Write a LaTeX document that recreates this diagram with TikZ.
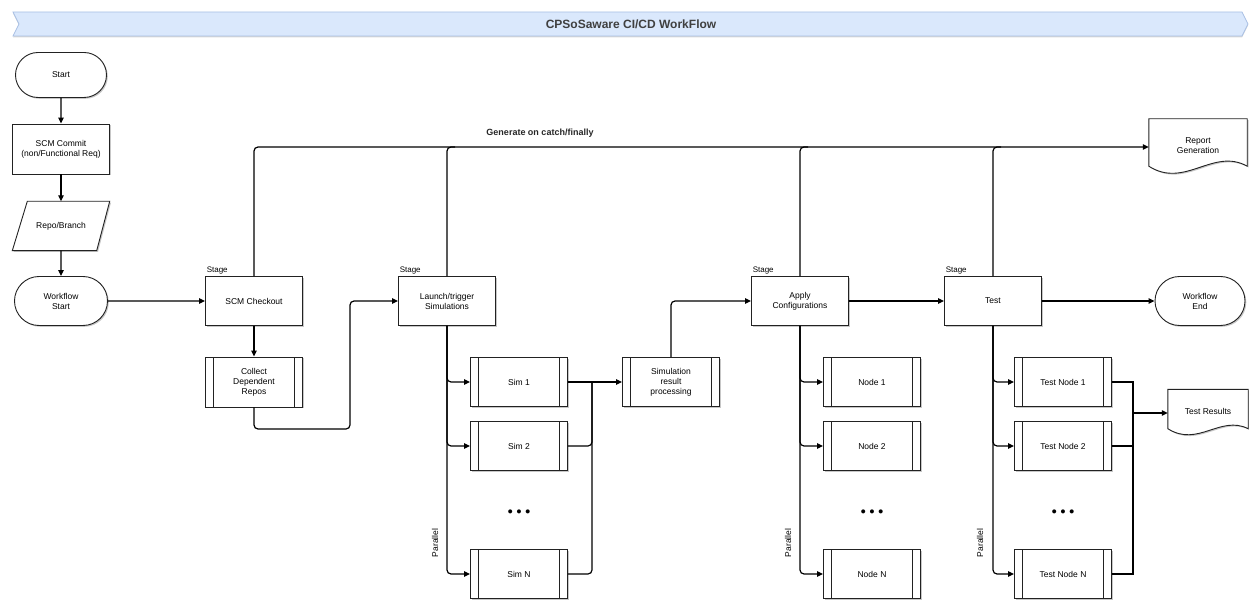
\documentclass[tikz,border=0pt]{standalone}
\usepackage{fontspec}
\setmainfont{Liberation Sans}
\usetikzlibrary{shapes.misc,arrows.meta,shadows,calc,backgrounds}
\definecolor{bannerfill}{HTML}{DAE8FC}
\definecolor{bannerline}{HTML}{A9C0E4}
\definecolor{ink}{HTML}{222222}
\begin{document}
\begin{tikzpicture}[x=1pt,y=-1pt,
  font=\fontsize{8.5}{10}\selectfont,
  shad/.style={drop shadow={opacity=0.22,shadow xshift=1.3pt,shadow yshift=-1.3pt,fill=black}},
  box/.style={draw=ink,line width=0.9pt,fill=white,minimum width=97pt,minimum height=49pt,align=center,inner sep=2pt,shad},
  term/.style={box,rounded rectangle,rounded rectangle arc length=180},
  proc/.style={box,path picture={\draw[line width=0.9pt,ink]
     ([xshift=8pt]path picture bounding box.north west) -- ([xshift=8pt]path picture bounding box.south west)
     ([xshift=-8pt]path picture bounding box.north east) -- ([xshift=-8pt]path picture bounding box.south east);}},
  plain/.style={minimum width=97pt,minimum height=49pt,align=center,inner sep=2pt},
  shapeline/.style={draw=ink,line width=0.9pt,fill=white,shad},
  conn/.style={draw=black,line width=1.2pt,rounded corners=4pt},
  arr/.style={conn,-{Triangle[length=6pt,width=5.5pt]}},
  stagelbl/.style={anchor=south west,inner sep=1.5pt,font=\fontsize{8}{9}\selectfont},
  parlbl/.style={rotate=90,font=\fontsize{8.5}{9}\selectfont},
  dots/.style={font=\bfseries\fontsize{14}{14}\selectfont}
]
\useasboundingbox (0,0) rectangle (1249,601);

% title banner
\begin{scope}[on background layer]
\draw[fill=bannerfill,draw=bannerline,line width=0.8pt,drop shadow={opacity=0.15,shadow xshift=0pt,shadow yshift=-1.5pt,fill=black}]
  (13,12) -- (1242,12) -- (1248,24) -- (1242,36) -- (13,36) -- (19,24) -- cycle;
\end{scope}
\node[font=\bfseries\fontsize{12}{14}\selectfont,text=black!75] (title) at (631,24) {CPSoSaware CI/CD WorkFlow};

% left column
\node[term,minimum width=95pt,minimum height=45pt] (start) at (61,75) {Start};
\node[box,minimum height=50pt] (commit) at (61,149) {SCM Commit\\(non/Functional Req)};
\node[plain] (repo) at (61,226) {Repo/Branch};
\node[term] (wstart) at (61,301) {Workflow\\Start};

% stages
\node[box] (checkout) at (254,301) {SCM Checkout};
\node[proc,minimum height=50pt] (collect) at (254,382) {Collect\\Dependent\\Repos};
\node[box] (launch) at (447,301) {Launch/trigger\\Simulations};
\node[box] (apply) at (800,301) {Apply\\Configurations};
\node[box] (test) at (993,301) {Test};
\node[term,minimum width=94pt] (wend) at (1200,301) {Workflow\\End};

\node[stagelbl] at (checkout.north west) {Stage};
\node[stagelbl] at (launch.north west) {Stage};
\node[stagelbl] at (apply.north west) {Stage};
\node[stagelbl] at (test.north west) {Stage};

% report generation
\node[plain,minimum width=98pt,minimum height=56pt] (rep) at (1198,147) {\raisebox{3pt}{\begin{tabular}{@{}c@{}}Report\\Generation\end{tabular}}};
\node[plain,minimum width=80pt,minimum height=47pt,inner sep=0pt] (tres) at (1208,413) {\raisebox{4pt}{Test Results}};

% sims
\node[proc] (sim1) at (519,382) {Sim 1};
\node[proc] (sim2) at (519,446) {Sim 2};
\node[dots] (simdots) at (519,513) {• • •};
\node[proc] (simN) at (519,574) {Sim N};
\node[proc] (simres) at (671,382) {Simulation\\result\\processing};

% apply nodes
\node[proc] (n1) at (872,382) {Node 1};
\node[proc] (n2) at (872,446) {Node 2};
\node[dots] (ndots) at (872,513) {• • •};
\node[proc] (nN) at (872,574) {Node N};

% test nodes
\node[proc] (tn1) at (1063,382) {Test Node 1};
\node[proc] (tn2) at (1063,446) {Test Node 2};
\node[dots] (tdots) at (1063,513) {• • •};
\node[proc] (tnN) at (1063,574) {Test Node N};

\node[parlbl] at (435,543) {Parallel};
\node[parlbl] at (788,543) {Parallel};
\node[parlbl] at (980,543) {Parallel};

% custom shapes behind text
\begin{scope}[on background layer]
\draw[shapeline] ($(repo.north west)+(15,0)$) -- (repo.north east) -- ($(repo.south east)+(-13,0)$) -- (repo.south west) -- cycle;
\draw[shapeline] (rep.north west) -- (rep.north east) -- ($(rep.south east)+(0,-9)$)
   .. controls ($(rep.south east)+(-34,-28)$) and ($(rep.south west)+(36,14)$) .. ($(rep.south west)+(0,-9)$) -- cycle;
\draw[shapeline] (tres.north west) -- (tres.north east) -- ($(tres.south east)+(0,-8)$)
   .. controls ($(tres.south east)+(-28,-22)$) and ($(tres.south west)+(30,11)$) .. ($(tres.south west)+(0,-8)$) -- cycle;
\end{scope}

% connectors left column
\draw[arr] (start) -- (commit);
\draw[arr] (commit) -- (repo.north);
\draw[arr] (repo.south) -- (wstart);
\draw[arr] (wstart) -- (checkout);
\draw[arr] (checkout) -- (collect);
\coordinate (c1) at (350,429);
\draw[arr] (collect.south) |- (c1) |- (launch.west);

% top report line
\coordinate (topy) at (0,147);
\draw[arr] (checkout.north) |- (rep.west);
\node[font=\bfseries\fontsize{9}{10}\selectfont,text=black!85] (gen) at (540,133) {Generate on catch/finally};
\draw[conn] (launch.north) |- ($(launch.north |- topy)+(8,0)$);
\draw[conn] (apply.north) |- ($(apply.north |- topy)+(8,0)$);
\draw[conn] (test.north) |- ($(test.north |- topy)+(8,0)$);

% main flow
\draw[arr] (simres.north) |- (apply.west);
\draw[arr] (apply) -- (test);
\draw[arr] (test) -- (wend);

% sims fan out
\draw[arr] (launch.south) |- (sim1.west);
\draw[arr] (launch.south) |- (sim2.west);
\draw[arr] (launch.south) |- (simN.west);
\coordinate (ms) at (592,382);
\draw[arr] (sim1.east) -- (simres.west);
\draw[conn] (sim2.east) -| (ms);
\draw[conn] (simN.east) -| (ms);

% apply fan out
\draw[arr] (apply.south) |- (n1.west);
\draw[arr] (apply.south) |- (n2.west);
\draw[arr] (apply.south) |- (nN.west);

% test fan out
\draw[arr] (test.south) |- (tn1.west);
\draw[arr] (test.south) |- (tn2.west);
\draw[arr] (test.south) |- (tnN.west);
\coordinate (mt) at (1133,382);
\draw[conn,rounded corners=0pt] (tn1.east) -- (mt) -- (mt |- tnN.east) -- (tnN.east);
\draw[conn] (tn2.east) -- (tn2.east -| mt);
\draw[arr] (mt |- tres.west) -- (tres.west);
\end{tikzpicture}
\end{document}
